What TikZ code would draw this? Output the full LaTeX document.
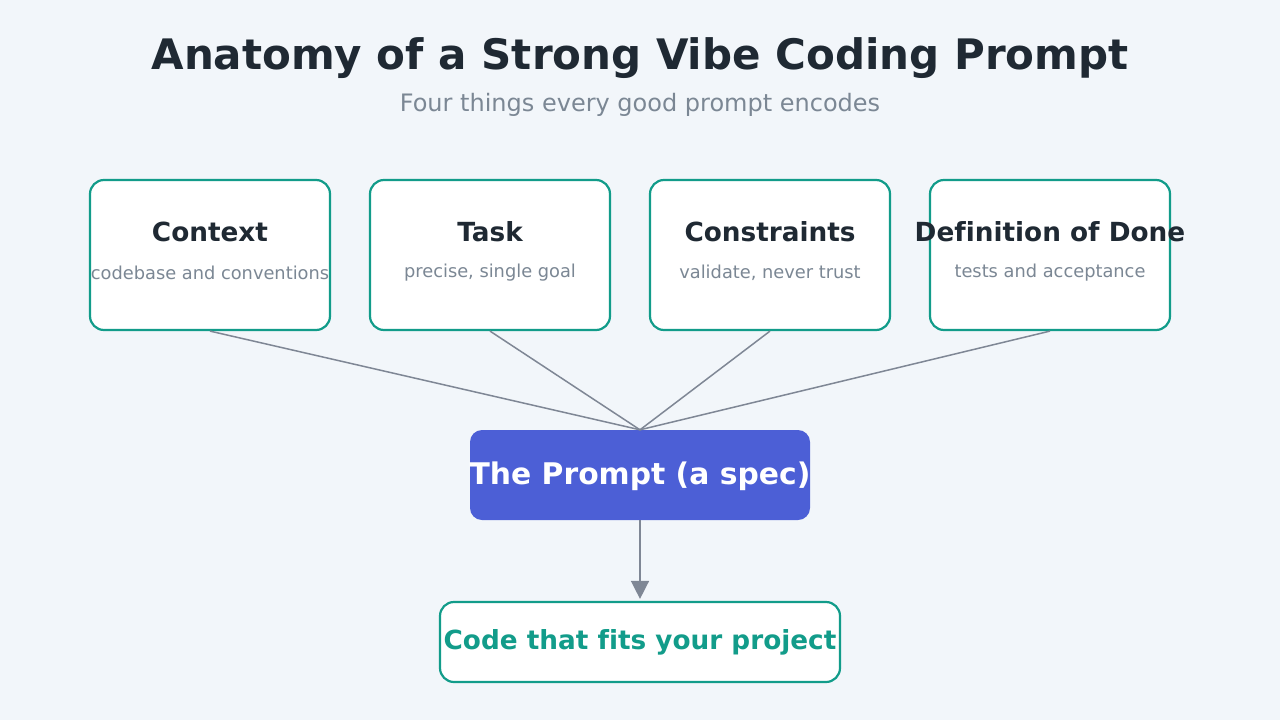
\documentclass[tikz,border=0pt]{standalone}
\usepackage{fontspec}
\setmainfont{DejaVu Sans}[Ligatures=NoCommon]
\usetikzlibrary{arrows.meta}
\definecolor{bg}{HTML}{F2F6FA}
\definecolor{ink}{HTML}{1F2933}
\definecolor{muted}{HTML}{7B8794}
\definecolor{teal}{HTML}{129C8A}
\definecolor{blue}{HTML}{4C5FD6}
\definecolor{wire}{HTML}{7F8795}
\tikzset{
  part/.style={draw=teal, line width=2.2pt, fill=white, rounded corners=14pt,
    minimum width=240pt, minimum height=150pt, inner sep=0pt},
  parttitle/.style={font=\fontsize{26.3}{30}\selectfont\bfseries, text=ink, inner sep=0pt},
  partsub/.style={font=\fontsize{17.8}{21}\selectfont, text=muted, inner sep=0pt},
  wireline/.style={draw=wire, line width=1.5pt},
}
\begin{document}
\begin{tikzpicture}[x=1pt,y=-1pt]
\fill[bg] (0,0) rectangle (1280,720);
\useasboundingbox (0,0) rectangle (1280,720);
\node[font=\fontsize{42}{48}\selectfont\bfseries, text=ink, inner sep=0pt] (title) at (640,58) {Anatomy of a Strong Vibe Coding Prompt};
\node[font=\fontsize{24}{28}\selectfont, text=muted, inner sep=0pt] (subtitle) at (640,105) {Four things every good prompt encodes};

\node[part] (ctx) at (210,255) {};
\node[part] (task) at (490,255) {};
\node[part] (cons) at (770,255) {};
\node[part] (done) at (1050,255) {};

\node[parttitle] (ctxT) at (210,232) {Context};
\node[partsub] (ctxS) at (210,273) {codebase and conventions};
\node[parttitle] (taskT) at (490,232) {Task};
\node[partsub] (taskS) at (490,273) {precise, single goal};
\node[parttitle] (consT) at (770,232) {Constraints};
\node[partsub] (consS) at (770,273) {validate, never trust};
\node[parttitle] (doneT) at (1050,232) {Definition of Done};
\node[partsub] (doneS) at (1050,273) {tests and acceptance};

\node[fill=blue, rounded corners=12pt, minimum width=340pt, minimum height=90pt, inner sep=0pt] (prompt) at (640,475) {};
\node[font=\fontsize{29.8}{34}\selectfont\bfseries, text=white, inner sep=0pt] (promptT) at (640,476) {The Prompt (a spec)};

\node[draw=teal, line width=2.2pt, fill=white, rounded corners=14pt, minimum width=400pt, minimum height=80pt, inner sep=0pt] (out) at (640,642) {};
\node[font=\fontsize{26.3}{30}\selectfont\bfseries, text=teal, inner sep=0pt] (outT) at (640,642) {Code that fits your project};

\draw[wireline] (ctx.south) -- (prompt.north);
\draw[wireline] (task.south) -- (prompt.north);
\draw[wireline] (cons.south) -- (prompt.north);
\draw[wireline] (done.south) -- (prompt.north);
\draw[wireline, -{Triangle[length=18pt,width=18pt]}, shorten >=2pt] (prompt.south) -- (out.north);
\end{tikzpicture}
\end{document}
